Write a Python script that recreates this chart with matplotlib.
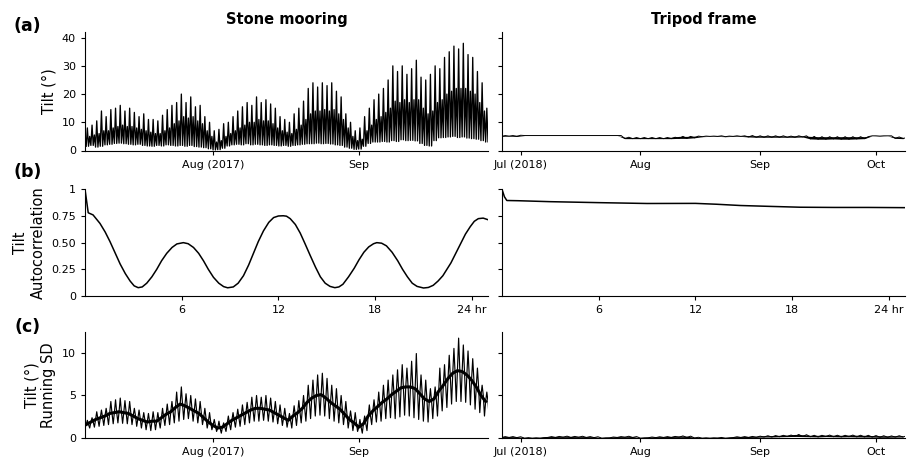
import numpy as np
import pandas as pd
import matplotlib
matplotlib.use("Agg")
import matplotlib.pyplot as plt

# ---- Stone mooring (2017), daily envelope, Jul 5 .. Sep 28
stone_days = pd.date_range("2017-07-05", periods=86, freq="D")

stone_tilt_hi = [8, 9, 10.5, 14, 12, 14.5, 15, 16, 14, 15,
                 13.5, 12, 13, 11, 11, 10.5, 12.5, 14.5, 16, 17,
                 20, 17, 19, 15.5, 16, 12, 10, 7, 7.5, 9.5,
                 10, 12, 14, 15.5, 17, 16, 19, 17, 18, 16.5,
                 15, 12, 11, 10, 13, 15, 17.5, 22, 24, 22.5,
                 24, 23, 24, 21, 19, 13, 10, 7, 8, 12,
                 15, 18, 20, 22, 25, 30, 28, 30, 27, 29,
                 32, 26, 25, 27, 30, 29, 33, 35, 37, 36,
                 38, 34, 33, 28, 24, 15]
# weaker of the two daily tidal peaks
stone_tilt_core = [5, 5.5, 6, 7, 7, 8, 8.5, 9, 8.5, 8.5,
                   8, 7.5, 7, 6.5, 6, 6, 7, 8, 9.5, 10.5,
                   12, 11.5, 12, 10.5, 9.5, 7, 5, 3, 3.5, 5,
                   6, 7, 8, 9, 10, 10, 11, 10.5, 10.5, 9.5,
                   8, 7, 6.5, 6, 7.5, 9, 11, 13, 14, 14,
                   14.5, 14, 14.5, 13, 11, 8, 5, 3.5, 4, 7,
                   9, 11, 12, 13.5, 15, 17.5, 17, 18, 17, 18,
                   18, 15, 13, 14, 17, 18, 20, 21, 22, 22,
                   22, 21, 20, 17, 14, 10]
stone_tilt_lo = [1.5, 1.8, 1.2, 1.5, 2.0, 2.2, 2.5, 2.6, 2.4, 2.2,
                 2.0, 2.2, 1.8, 1.6, 1.5, 1.8, 1.6, 2.0, 1.8, 1.6,
                 1.8, 1.5, 1.8, 1.4, 1.2, 1.0, 0.6, 0.2, 0.3, 0.8,
                 1.6, 2.0, 2.2, 2.0, 2.4, 2.0, 2.2, 2.0, 1.8, 2.0,
                 1.8, 1.6, 1.8, 1.5, 1.8, 2.0, 2.2, 2.4, 2.4, 2.6,
                 2.4, 2.5, 2.3, 2.0, 1.8, 1.2, 0.8, 0.4, 0.5, 1.5,
                 2.5, 3.0, 3.0, 3.2, 3.0, 3.5, 3.2, 3.8, 3.5, 3.6,
                 3.4, 2.5, 1.8, 1.6, 3.5, 4.5, 4.6, 4.8, 5.0, 4.6,
                 4.8, 4.4, 4.2, 4.0, 3.5, 3.0]

stone_sd_hi = [2.1, 2.4, 3.1, 3.3, 3.5, 4.3, 4.5, 4.7, 4.4, 4.3,
               3.5, 3.3, 3.0, 2.9, 3.1, 3.0, 3.5, 4.0, 4.3, 5.4,
               6.0, 5.2, 5.0, 4.6, 4.3, 3.5, 3.0, 2.2, 2.0, 1.8,
               2.6, 3.0, 3.4, 3.9, 4.2, 4.8, 5.0, 4.8, 5.0, 4.7,
               4.3, 3.9, 3.5, 2.9, 3.8, 4.4, 5.0, 6.2, 6.8, 7.4,
               7.6, 7.0, 6.2, 5.8, 5.0, 4.3, 3.2, 3.0, 2.2, 2.6,
               3.9, 4.5, 5.4, 6.2, 6.8, 7.4, 8.0, 8.6, 8.2, 9.0,
               9.9, 7.4, 6.8, 5.8, 6.0, 8.2, 8.6, 9.7, 10.5, 11.7,
               10.9, 10.2, 9.3, 8.2, 6.2, 5.4]
stone_sd_mid = [1.6, 1.9, 2.2, 2.4, 2.6, 2.9, 3.0, 3.1, 3.0, 2.9,
                2.6, 2.3, 2.1, 1.9, 2.0, 2.0, 2.4, 2.8, 3.1, 3.6,
                4.0, 3.8, 3.5, 3.2, 2.9, 2.4, 1.9, 1.5, 1.2, 1.3,
                1.7, 2.1, 2.4, 2.7, 3.0, 3.3, 3.5, 3.5, 3.4, 3.3,
                3.0, 2.7, 2.4, 2.1, 2.6, 3.0, 3.5, 4.2, 4.7, 5.0,
                5.1, 4.7, 4.2, 3.8, 3.4, 2.8, 2.2, 1.8, 1.3, 1.7,
                2.6, 3.2, 3.7, 4.2, 4.6, 5.1, 5.5, 5.9, 6.0, 6.0,
                5.8, 5.2, 4.6, 4.3, 4.6, 5.5, 6.2, 7.0, 7.6, 7.9,
                7.8, 7.4, 6.8, 6.0, 5.0, 4.3]
stone_sd_lo = [1.2, 1.3, 1.4, 1.5, 1.6, 1.7, 1.8, 1.75, 1.7, 1.6,
               1.4, 1.2, 1.0, 0.9, 1.0, 1.2, 1.5, 1.6, 1.8, 2.0,
               2.2, 2.3, 2.0, 1.8, 1.6, 1.2, 1.0, 0.8, 0.6, 0.8,
               1.0, 1.3, 1.4, 1.6, 1.8, 2.0, 2.0, 2.1, 2.0, 1.9,
               1.7, 1.5, 1.3, 1.2, 1.5, 1.8, 2.0, 2.3, 2.6, 2.7,
               2.6, 2.3, 2.0, 1.8, 1.6, 1.2, 0.9, 0.8, 0.6, 0.9,
               1.6, 1.9, 2.0, 2.3, 2.4, 2.3, 2.5, 2.7, 2.6, 2.4,
               2.2, 2.0, 1.9, 2.3, 2.6, 3.2, 3.6, 4.0, 4.3, 4.3,
               4.2, 3.9, 3.4, 3.0, 2.6, 2.4]

# ---- Tripod frame (2018), two-day envelope, Jun 26 .. Oct 8
tripod_days = pd.date_range("2018-06-26", periods=53, freq="2D")

tripod_tilt_hi = [5.3, 5.3, 5.4, 5.3, 5.3, 5.3, 5.3, 5.3, 5.3, 5.3,
                  5.3, 5.3, 5.3, 5.3, 5.3, 5.3, 4.7, 4.6, 4.6, 4.6,
                  4.6, 4.6, 4.7, 5.0, 5.0, 5.1, 5.1, 5.1, 5.2, 5.1,
                  5.2, 5.2, 5.3, 5.2, 5.2, 5.2, 5.2, 5.1, 5.2, 5.2,
                  5.0, 4.9, 4.9, 4.9, 4.9, 4.9, 4.9, 4.9, 5.2, 5.2,
                  5.2, 4.8, 4.7]
tripod_tilt_lo = [5.0, 5.1, 5.0, 5.3, 5.3, 5.3, 5.3, 5.3, 5.3, 5.3,
                  5.3, 5.3, 5.3, 5.3, 5.3, 5.3, 4.2, 4.2, 4.2, 4.2,
                  4.2, 4.2, 4.2, 4.3, 4.3, 4.5, 4.9, 5.0, 5.0, 4.9,
                  5.0, 5.0, 4.8, 4.7, 4.7, 4.7, 4.7, 4.7, 4.7, 4.8,
                  4.1, 4.0, 4.0, 4.1, 4.0, 4.0, 4.1, 4.2, 5.2, 5.1,
                  5.2, 4.3, 4.2]

tripod_sd_hi = [0.2, 0.2, 0.18, 0.08, 0.06, 0.08, 0.2, 0.22, 0.25, 0.22,
                0.24, 0.2, 0.18, 0.06, 0.15, 0.2, 0.24, 0.2, 0.06, 0.15,
                0.18, 0.2, 0.22, 0.28, 0.25, 0.12, 0.06, 0.06, 0.1, 0.06,
                0.18, 0.2, 0.22, 0.25, 0.3, 0.32, 0.35, 0.38, 0.45, 0.42,
                0.35, 0.35, 0.38, 0.36, 0.35, 0.38, 0.36, 0.35, 0.32, 0.3,
                0.28, 0.3, 0.3]
tripod_sd_lo = [0.08, 0.1, 0.08, 0.02, 0.02, 0.03, 0.1, 0.1, 0.12, 0.1,
                0.12, 0.1, 0.08, 0.02, 0.05, 0.1, 0.12, 0.1, 0.02, 0.06,
                0.08, 0.1, 0.1, 0.12, 0.1, 0.04, 0.02, 0.02, 0.04, 0.02,
                0.08, 0.1, 0.1, 0.12, 0.15, 0.15, 0.18, 0.2, 0.22, 0.2,
                0.18, 0.16, 0.2, 0.18, 0.16, 0.18, 0.16, 0.15, 0.14, 0.12,
                0.12, 0.14, 0.15]

# ---- Autocorrelation vs lag (hours)
stone_lag = [0, 0.2, 0.5, 0.93, 1.25, 1.55, 1.85, 2.18, 2.5, 2.8, 3.05, 3.3, 3.55,
             3.83, 4.15, 4.45, 4.75, 5.07, 5.4, 5.7, 6.1, 6.4, 6.73, 7.05, 7.35,
             7.65, 7.97, 8.3, 8.6, 8.85, 9.2, 9.5, 9.83, 10.15, 10.45, 10.75,
             11.07, 11.4, 11.7, 12.0, 12.3, 12.5, 12.73, 13.05, 13.35, 13.65,
             13.97, 14.3, 14.6, 14.9, 15.2, 15.5, 15.75, 16.0, 16.35, 16.7, 17.0,
             17.3, 17.6, 17.9, 18.1, 18.4, 18.7, 19.05, 19.4, 19.7, 20.0, 20.3,
             20.6, 21.0, 21.3, 21.6, 21.9, 22.2, 22.45, 22.7, 23.0, 23.3, 23.6,
             23.9, 24.15, 24.4, 24.7, 25.0]
stone_acf = [1.0, 0.78, 0.76, 0.68, 0.60, 0.51, 0.41, 0.30, 0.21, 0.14, 0.095, 0.078, 0.085,
             0.12, 0.18, 0.25, 0.33, 0.40, 0.455, 0.488, 0.50, 0.49, 0.455, 0.40, 0.33,
             0.25, 0.175, 0.12, 0.088, 0.077, 0.085, 0.12, 0.19, 0.29, 0.40, 0.51,
             0.61, 0.69, 0.735, 0.75, 0.752, 0.748, 0.725, 0.67, 0.59, 0.49,
             0.38, 0.27, 0.18, 0.12, 0.09, 0.078, 0.085, 0.11, 0.18, 0.26, 0.34,
             0.41, 0.46, 0.49, 0.50, 0.495, 0.47, 0.41, 0.33, 0.25, 0.18, 0.12,
             0.09, 0.075, 0.08, 0.10, 0.14, 0.19, 0.25, 0.31, 0.40, 0.49, 0.58,
             0.65, 0.70, 0.725, 0.73, 0.715]
tripod_lag = [0, 0.15, 0.3, 1, 3, 6, 9, 12, 13.3, 14.8, 16.6, 18.5, 20.6, 22.7, 25]
tripod_acf = [1.0, 0.93, 0.895, 0.893, 0.884, 0.875, 0.867, 0.868, 0.86, 0.848,
              0.84, 0.832, 0.83, 0.83, 0.828]


def zigzag(days, step, *levels):
    # walk through the given levels within each sample step, in order
    n = len(levels)
    t = np.column_stack([(days + step * k / n).values for k in range(n)]).ravel()
    y = np.column_stack(levels).ravel()
    return t, y


W, H = 911, 458
fig = plt.figure(figsize=(W / 100, H / 100), dpi=100)

cols_x = [85 / W, 502 / W]
aw = 403 / W
rows = [(150.5, 118.5), (296, 106.7), (438.3, 106.6)]
axes = []
for bot, hgt in rows:
    row = []
    for x0 in cols_x:
        row.append(fig.add_axes([x0, (H - bot) / H, aw, hgt / H]))
    axes.append(row)

tick_fs = 8
lab_fs = 10.5
lc = "black"
day = pd.Timedelta(days=1)

for row in axes:
    for ax in row:
        ax.spines["top"].set_visible(False)
        ax.spines["right"].set_visible(False)
        ax.tick_params(labelsize=tick_fs, length=3, width=0.8)

# ---- row (a)
ax = axes[0][0]
t, y = zigzag(stone_days, day, stone_tilt_lo, stone_tilt_hi,
              stone_tilt_lo, stone_tilt_core)
ax.plot(t, y, color=lc, lw=0.95)
ax = axes[0][1]
t, y = zigzag(tripod_days, 2 * day, tripod_tilt_lo, tripod_tilt_hi)
ax.fill_between(tripod_days, tripod_tilt_lo, tripod_tilt_hi, color=lc, lw=0)
ax.plot(t, y, color=lc, lw=0.7)

# ---- row (b)
axes[1][0].plot(stone_lag, stone_acf, color=lc, lw=1.1)
axes[1][1].plot(tripod_lag, tripod_acf, color=lc, lw=1.1)

# ---- row (c)
ax = axes[2][0]
t, y = zigzag(stone_days, day, stone_sd_mid, stone_sd_hi,
              stone_sd_mid, stone_sd_lo)
ax.plot(t, y, color=lc, lw=0.85)
ax.plot(stone_days, stone_sd_mid, color=lc, lw=2.2)
ax = axes[2][1]
t, y = zigzag(tripod_days, 2 * day, tripod_sd_lo, tripod_sd_hi)
ax.fill_between(tripod_days, tripod_sd_lo, tripod_sd_hi, color=lc, lw=0)
ax.plot(t, y, color=lc, lw=0.7)

# ---- axes limits and ticks
stone_xlim = (pd.Timestamp("2017-07-04 18:00"), pd.Timestamp("2017-09-28 12:00"))
tripod_xlim = (pd.Timestamp("2018-06-26 04:00"), pd.Timestamp("2018-10-08 12:00"))
stone_ticks = [pd.Timestamp("2017-08-01"), pd.Timestamp("2017-09-01")]
stone_ticklabels = ["Aug (2017)", "Sep"]
tripod_ticks = [pd.Timestamp("2018-07-01"), pd.Timestamp("2018-08-01"),
                pd.Timestamp("2018-09-01"), pd.Timestamp("2018-10-01")]
tripod_ticklabels = ["Jul (2018)", "Aug", "Sep", "Oct"]

for r in (0, 2):
    axes[r][0].set_xlim(*stone_xlim)
    axes[r][0].set_xticks(stone_ticks)
    axes[r][0].set_xticklabels(stone_ticklabels)
    axes[r][1].set_xlim(*tripod_xlim)
    axes[r][1].set_xticks(tripod_ticks)
    axes[r][1].set_xticklabels(tripod_ticklabels)

for ax in axes[1]:
    ax.set_xlim(0, 25)
    ax.set_xticks([6, 12, 18, 24])
    ax.set_xticklabels(["6", "12", "18", "24 hr"])

ylims = [(0, 42), (0, 1), (0, 12.45)]
yticks = [[0, 10, 20, 30, 40], [0, 0.25, 0.5, 0.75, 1], [0, 5, 10]]
yticklabels = [["0", "10", "20", "30", "40"], ["0", "0.25", "0.50", "0.75", "1"],
               ["0", "5", "10"]]
for r in range(3):
    for c in range(2):
        ax = axes[r][c]
        ax.set_ylim(*ylims[r])
        ax.set_yticks(yticks[r])
        if c == 0:
            ax.set_yticklabels(yticklabels[r])
        else:
            ax.set_yticklabels([])

axes[0][0].set_ylabel("Tilt (°)", fontsize=lab_fs)
axes[1][0].set_ylabel("Tilt\nAutocorrelation", fontsize=lab_fs)
axes[2][0].set_ylabel("Tilt (°)\nRunning SD", fontsize=lab_fs)

axes[0][0].set_title("Stone mooring", fontsize=lab_fs, fontweight="bold")
axes[0][1].set_title("Tripod frame", fontsize=lab_fs, fontweight="bold")

for lab, ypx in [("(a)", 26), ("(b)", 172), ("(c)", 327)]:
    fig.text(27.5 / W, 1 - ypx / H, lab, fontsize=12.5, fontweight="bold",
             ha="center", va="center")

fig.savefig("out.png", dpi=100)
